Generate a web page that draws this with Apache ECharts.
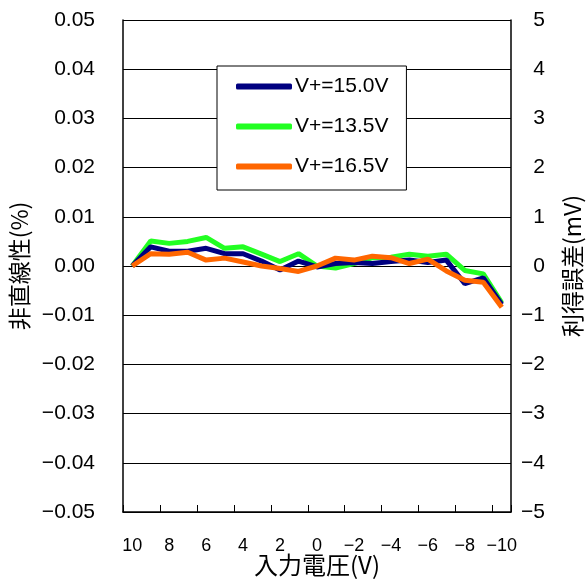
<!DOCTYPE html>
<html>
<head>
  <meta charset="utf-8">
  <title>非直線性</title>
  <script src="https://cdn.jsdelivr.net/npm/echarts@6/dist/echarts.min.js"></script>
  <style>
    html, body { margin: 0; padding: 0; background: #fff; }
    #graph { width: 586px; height: 582px; }
  </style>
</head>
<body>
  <div id="graph"></div>

  <script>
    // 入力電圧 (V)
    var inputVolts = ['10','9','8','7','6','5','4','3','2','1','0','-1','-2','-3','-4','-5','-6','-7','-8','-9','-10'];

    // 非直線性 (%)
    var v150 = [0, 0.0039, 0.0030, 0.0030, 0.0036, 0.0025, 0.0025, 0.0010, -0.0008, 0.0010, -0.0002,
                0.0005, 0.0007, 0.0005, 0.0009, 0.0012, 0.0007, 0.0012, -0.0036, -0.0024, -0.0078];
    var v135 = [0, 0.0051, 0.0046, 0.0050, 0.0058, 0.0036, 0.0039, 0.0024, 0.0009, 0.0025, 0,
                -0.0004, 0.0005, 0.0017, 0.0018, 0.0024, 0.0020, 0.0024, -0.0009, -0.0016, -0.0075];
    var v165 = [0, 0.0025, 0.0024, 0.0028, 0.0012, 0.0016, 0.0008, 0, -0.0005, -0.0011, 0,
                0.0016, 0.0012, 0.0020, 0.0017, 0.0005, 0.0014, -0.0010, -0.0029, -0.0033, -0.0084];

    var seriesNames = ['V+=15.0V', 'V+=13.5V', 'V+=16.5V'];
    var seriesColors = ['#000080', '#22ff22', '#ff6600'];

    var numFont = '"Liberation Sans", Arial, sans-serif';
    var jpFont = '"Noto Sans CJK JP", sans-serif';

    function minus(s) { return String(s).replace('-', '\u2212'); }

    var myChart = echarts.init(document.getElementById('graph'));

    var option = {
      animation: false,
      backgroundColor: '#fff',
      grid: { left: 123, right: 75, top: 20, bottom: 70, containLabel: false, outerBoundsMode: 'none' },
      legend: {
        data: seriesNames,
        orient: 'vertical',
        left: 217,
        top: 66,
        padding: [10, 18, 13, 19],
        itemGap: 19,
        itemWidth: 56,
        itemHeight: 6,
        icon: 'roundRect',
        backgroundColor: '#fff',
        borderColor: '#000',
        borderWidth: 1,
        borderRadius: 0,
        textStyle: { fontFamily: numFont, fontSize: 21, color: '#000', padding: [0, 0, 0, -2] }
      },
      xAxis: {
        type: 'category',
        data: inputVolts,
        boundaryGap: true,
        name: '入力電圧(V)',
        nameLocation: 'middle',
        nameGap: 41,
        nameMoveOverlap: false,
        nameTextStyle: { fontFamily: jpFont, fontSize: 24, color: '#000' },
        axisLine: { onZero: false, lineStyle: { color: '#000', width: 1.5 } },
        axisTick: { show: true, inside: true, length: 7, interval: 1, lineStyle: { color: '#000' } },
        axisLabel: {
          interval: 1,
          margin: 25,
          fontFamily: numFont,
          fontSize: 18,
          color: '#000',
          formatter: function (v) { return minus(v); }
        },
        splitLine: { show: false }
      },
      yAxis: [{
        type: 'value',
        min: -0.05,
        max: 0.05,
        interval: 0.01,
        position: 'left',
        name: '非直線性(%)',
        nameLocation: 'middle',
        nameGap: 86,
        nameTextStyle: { fontFamily: jpFont, fontSize: 23, color: '#000' },
        axisLine: { show: true, lineStyle: { color: '#000', width: 1.5 } },
        axisTick: { show: false },
        axisLabel: {
          margin: 28,
          fontFamily: numFont,
          fontSize: 21,
          color: '#000',
          formatter: function (v) { return minus(v.toFixed(2)); }
        },
        splitLine: { show: true, lineStyle: { color: '#000', width: 1.2 } }
      }, {
        type: 'value',
        min: -5,
        max: 5,
        interval: 1,
        position: 'right',
        name: '利得誤差(mV)',
        nameLocation: 'middle',
        nameGap: 50,
        nameTextStyle: { fontFamily: jpFont, fontSize: 23, color: '#000' },
        axisLine: { show: true, lineStyle: { color: '#000', width: 1.5 } },
        axisTick: { show: false },
        axisLabel: {
          margin: 34,
          align: 'right',
          fontFamily: numFont,
          fontSize: 21,
          color: '#000',
          formatter: function (v) { return minus(v); }
        },
        splitLine: { show: false }
      }],
      series: [
        { name: seriesNames[1], type: 'line', data: v135, symbol: 'none', z: 2,
          lineStyle: { color: seriesColors[1], width: 5 }, itemStyle: { color: seriesColors[1] } },
        { name: seriesNames[0], type: 'line', data: v150, symbol: 'none', z: 3,
          lineStyle: { color: seriesColors[0], width: 5 }, itemStyle: { color: seriesColors[0] } },
        { name: seriesNames[2], type: 'line', data: v165, symbol: 'none', z: 4,
          lineStyle: { color: seriesColors[2], width: 5 }, itemStyle: { color: seriesColors[2] } }
      ]
    };

    myChart.setOption(option);
  </script>
</body>
</html>
